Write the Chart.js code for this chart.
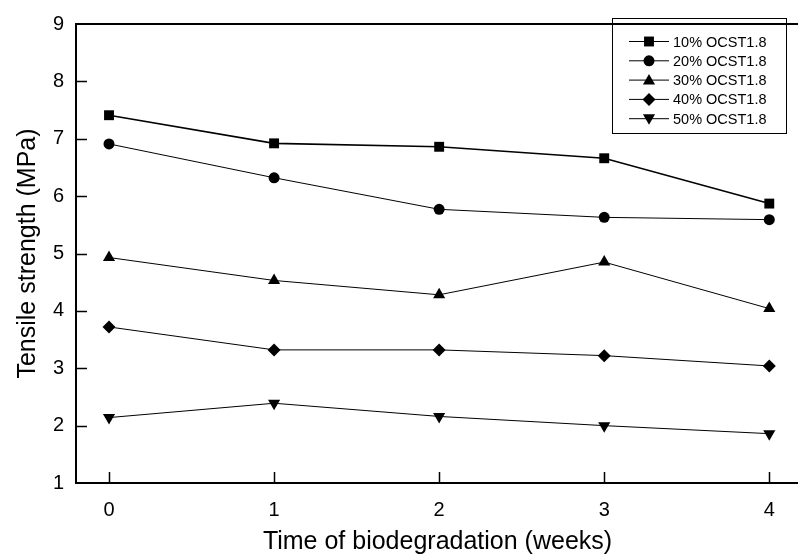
<!DOCTYPE html>
<html>
<head>
<meta charset="utf-8">
<title>Tensile strength vs biodegradation time</title>
<script src="https://cdn.jsdelivr.net/npm/chart.js@4.4.1/dist/chart.umd.min.js"></script>
<style>
  html, body { margin: 0; padding: 0; background: #fff; overflow: hidden; }
  canvas { display: block; }
</style>
</head>
<body>
<canvas id="myChart" width="806" height="554"></canvas>
<script>
// weeks of biodegradation (x) and tensile strength in MPa (y)
const weeks = [0, 1, 2, 3, 4];
const yTicks = [1, 2, 3, 4, 5, 6, 7, 8, 9];

const ts10 = [7.41, 6.92, 6.86, 6.66, 5.87];
const ts20 = [6.91, 6.32, 5.77, 5.63, 5.59];
const ts30 = [4.93, 4.53, 4.28, 4.85, 4.04];
const ts40 = [3.72, 3.32, 3.32, 3.22, 3.04];
const ts50 = [2.14, 2.39, 2.16, 2.00, 1.86];

const seriesNames = ['10% OCST1.8', '20% OCST1.8', '30% OCST1.8', '40% OCST1.8', '50% OCST1.8'];

const toPoints = vals => vals.map((v, i) => ({x: weeks[i], y: v}));

function makeSet(label, vals, style, radius, rotation, width) {
    return {
        label: label,
        data: toPoints(vals),
        borderColor: '#000',
        backgroundColor: '#000',
        borderWidth: width,
        pointStyle: style,
        pointRadius: radius,
        pointRotation: rotation,
        pointBorderWidth: 0,
        pointBackgroundColor: '#000',
        tension: 0
    };
}

// ticks drawn inward, top frame line and the boxed legend
const frame = {
    id: 'frame',
    afterDraw(chart) {
        const ctx = chart.ctx;
        const area = chart.chartArea;
        const xs = chart.scales.x;
        const ys = chart.scales.y;
        ctx.save();
        ctx.strokeStyle = '#000';
        ctx.lineWidth = 2;
        ctx.beginPath();
        ctx.moveTo(area.left - 1, area.top);
        ctx.lineTo(area.right, area.top);
        ctx.stroke();

        ctx.lineWidth = 1.5;
        ctx.beginPath();
        yTicks.slice(1, -1).forEach(v => {
            const py = Math.round(ys.getPixelForValue(v)) + 0.5;
            ctx.moveTo(area.left, py);
            ctx.lineTo(area.left + 11, py);
        });
        weeks.forEach(v => {
            const px = Math.round(xs.getPixelForValue(v)) + 0.5;
            ctx.moveTo(px, area.bottom);
            ctx.lineTo(px, area.bottom - 11);
        });
        ctx.stroke();

        // legend
        const bx = 612, by = 18, bw = 174, bh = 115;
        ctx.lineWidth = 1;
        ctx.strokeRect(bx + 0.5, by + 0.5, bw, bh);
        ctx.font = '14.5px "Liberation Sans", Arial, sans-serif';
        ctx.textBaseline = 'middle';
        ctx.fillStyle = '#000';
        chart.data.datasets.forEach((ds, i) => {
            const ly = 41.5 + i * 19.3;
            ctx.strokeStyle = '#000';
            ctx.lineWidth = 1;
            ctx.beginPath();
            ctx.moveTo(629, ly);
            ctx.lineTo(669, ly);
            ctx.stroke();
            let dy = 0;
            if (ds.pointStyle === 'triangle') {
                dy = ds.pointRotation ? -1 : 1;
            }
            ctx.fillStyle = '#000';
            Chart.helpers.drawPoint(ctx, {
                pointStyle: ds.pointStyle,
                rotation: ds.pointRotation,
                radius: ds.pointRadius,
                borderWidth: 0
            }, 649, ly + dy);
            ctx.fillText(ds.label, 673, ly + 1);
        });
        ctx.restore();
    }
};

new Chart(document.getElementById('myChart').getContext('2d'), {
    type: 'line',
    data: {
        datasets: [
            makeSet(seriesNames[0], ts10, 'rect', 7, 0, 1.6),
            makeSet(seriesNames[1], ts20, 'circle', 5.5, 0, 1),
            makeSet(seriesNames[2], ts30, 'triangle', 7, 0, 1),
            makeSet(seriesNames[3], ts40, 'rectRot', 6.5, 0, 1),
            makeSet(seriesNames[4], ts50, 'triangle', 7, 180, 1)
        ]
    },
    options: {
        responsive: false,
        animation: false,
        devicePixelRatio: 1,
        layout: {padding: {left: 0, right: 0, top: 0, bottom: 0}},
        plugins: {
            legend: {display: false},
            tooltip: {enabled: false}
        },
        scales: {
            x: {
                type: 'linear',
                min: -0.2,
                max: 4.18,
                afterBuildTicks: scale => { scale.ticks = weeks.map(v => ({value: v})); },
                afterFit: scale => { scale.height = 71; },
                grid: {display: false, drawTicks: false},
                border: {display: true, color: '#000', width: 2},
                ticks: {
                    padding: 15,
                    color: '#000',
                    font: {family: '"Liberation Sans", Arial, sans-serif', size: 20}
                },
                title: {
                    display: true,
                    text: 'Time of biodegradation (weeks)',
                    color: '#000',
                    padding: {top: 0, bottom: -3},
                    font: {family: '"Liberation Sans", Arial, sans-serif', size: 25}
                }
            },
            y: {
                min: 1,
                max: 9,
                afterBuildTicks: scale => { scale.ticks = yTicks.map(v => ({value: v})); },
                afterFit: scale => { scale.width = 76; },
                grid: {display: false, drawTicks: false},
                border: {display: true, color: '#000', width: 2},
                ticks: {
                    padding: 12,
                    color: '#000',
                    font: {family: '"Liberation Sans", Arial, sans-serif', size: 20}
                },
                title: {
                    display: true,
                    text: 'Tensile strength (MPa)',
                    color: '#000',
                    padding: {top: 13, bottom: 0},
                    font: {family: '"Liberation Sans", Arial, sans-serif', size: 25}
                }
            }
        }
    },
    plugins: [frame]
});
</script>
</body>
</html>
